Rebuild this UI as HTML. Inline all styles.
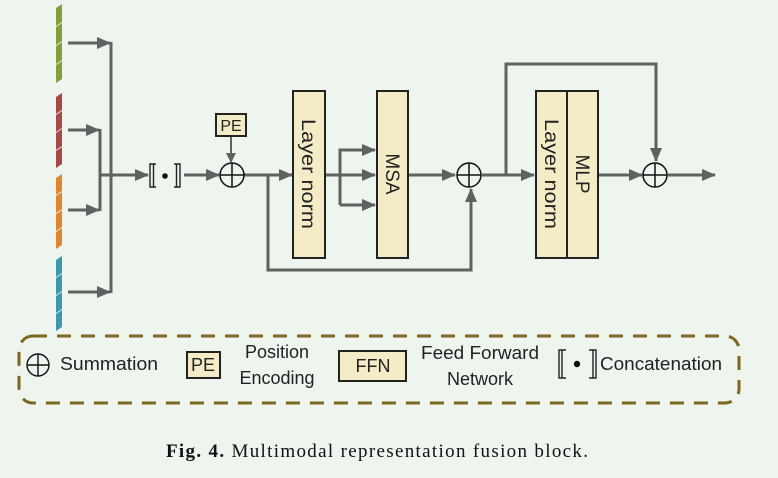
<!DOCTYPE html>
<html><head><meta charset="utf-8"><style>
html,body{margin:0;padding:0;background:#eef4ee}
svg{display:block}
</style></head><body>
<svg width="778" height="478" viewBox="0 0 778 478" xmlns="http://www.w3.org/2000/svg">
<defs>
<marker id="a" markerWidth="10" markerHeight="10" refX="9" refY="5" orient="auto" markerUnits="userSpaceOnUse" viewBox="0 0 10 10">
<path d="M0,0 L10,5 L0,10 z" fill="#5f625f"/></marker>
<marker id="b" markerWidth="14" markerHeight="12" refX="13" refY="6" orient="auto" markerUnits="userSpaceOnUse" viewBox="0 0 14 12">
<path d="M0,0 L14,6 L0,12 z" fill="#5f625f"/></marker>
</defs>
<rect x="0" y="0" width="778" height="478" fill="#eef4ee"/>
<g>
<g fill="#7fa03a"><path d="M56,8 l6,-4 v18 l-6,4z"/><path d="M56,27 l6,-4 v18 l-6,4z"/><path d="M56,46 l6,-4 v18 l-6,4z"/><path d="M56,65 l6,-4 v18 l-6,4z"/></g>
<g fill="#a54a48"><path d="M56,97 l6,-4 v17 l-6,4z"/><path d="M56,115 l6,-4 v17 l-6,4z"/><path d="M56,133 l6,-4 v17 l-6,4z"/><path d="M56,151 l6,-4 v17 l-6,4z"/></g>
<g fill="#e0862e"><path d="M56,178 l6,-4 v17 l-6,4z"/><path d="M56,196 l6,-4 v17 l-6,4z"/><path d="M56,214 l6,-4 v17 l-6,4z"/><path d="M56,232 l6,-4 v17 l-6,4z"/></g>
<g fill="#3d98ad"><path d="M56,260 l6,-4 v17 l-6,4z"/><path d="M56,278 l6,-4 v17 l-6,4z"/><path d="M56,296 l6,-4 v17 l-6,4z"/><path d="M56,314 l6,-4 v17 l-6,4z"/></g>
</g>
<g stroke="#5f625f" stroke-width="3" fill="none">
<line x1="68" y1="43" x2="110" y2="43" marker-end="url(#b)"/>
<line x1="68" y1="130" x2="99" y2="130" marker-end="url(#b)"/>
<line x1="68" y1="210" x2="99" y2="210" marker-end="url(#b)"/>
<line x1="68" y1="292" x2="110" y2="292" marker-end="url(#b)"/>
<line x1="111" y1="42" x2="111" y2="293"/>
<line x1="100" y1="129" x2="100" y2="211"/>
<line x1="100" y1="175" x2="148" y2="175" marker-end="url(#b)"/>
<line x1="184" y1="175" x2="219" y2="175" marker-end="url(#b)"/>
<line x1="231" y1="137" x2="231" y2="162" stroke-width="2" marker-end="url(#a)"/>
<line x1="244" y1="175" x2="292" y2="175" marker-end="url(#b)"/>
<polyline points="268,175 268,270 471,270 471,189" marker-end="url(#b)"/>
<line x1="325" y1="175" x2="375" y2="175" marker-end="url(#b)"/>
<polyline points="340,205 340,150 375,150" marker-end="url(#b)"/>
<line x1="340" y1="205" x2="375" y2="205" marker-end="url(#b)"/>
<line x1="408" y1="175" x2="455" y2="175" marker-end="url(#b)"/>
<line x1="482" y1="175" x2="534" y2="175" marker-end="url(#b)"/>
<polyline points="506,175 506,64 656,64 656,161" marker-end="url(#b)"/>
<line x1="598" y1="175" x2="642" y2="175" marker-end="url(#b)"/>
<line x1="668" y1="175" x2="715" y2="175" marker-end="url(#b)"/>
</g>
<path d="M156,164 h-6 v23 h6 M153.5,164 v23 M174,164 h6 v23 h-6 M176.5,164 v23" stroke="#222" stroke-width="1.4" fill="none"/>
<circle cx="165" cy="176" r="2.8" fill="#111"/>
<g stroke="#111" stroke-width="1.5" fill="none">
<circle cx="232" cy="175" r="12"/><path d="M220,175h24M232,163v24"/>
<circle cx="469" cy="175" r="12"/><path d="M457,175h24M469,163v24"/>
<circle cx="655" cy="175" r="12"/><path d="M643,175h24M655,163v24"/>
</g>
<rect x="216" y="114" width="30" height="22" fill="#f3ecc7" stroke="#222" stroke-width="2"/>
<text x="231" y="131" font-family="Liberation Sans,sans-serif" font-size="16" text-anchor="middle" fill="#222">PE</text>
<g fill="#f3ecc7" stroke="#222" stroke-width="2">
<rect x="293" y="91" width="32" height="167"/>
<rect x="377" y="91" width="31" height="167"/>
<rect x="536" y="91" width="31" height="167"/>
<rect x="567" y="91" width="31" height="167"/>
</g>
<g font-family="Liberation Sans,sans-serif" font-size="19" fill="#222" text-anchor="middle">
<text transform="translate(302,174) rotate(90)" textLength="110" lengthAdjust="spacingAndGlyphs">Layer norm</text>
<text transform="translate(386,174) rotate(90)">MSA</text>
<text transform="translate(545,174) rotate(90)" textLength="110" lengthAdjust="spacingAndGlyphs">Layer norm</text>
<text transform="translate(576,174) rotate(90)">MLP</text>
</g>
<rect x="19" y="336" width="720" height="67" rx="14" fill="none" stroke="#7d6620" stroke-width="3" stroke-dasharray="14,10"/>
<g stroke="#111" stroke-width="1.4" fill="none"><circle cx="38" cy="365" r="11"/><path d="M27,365h22M38,354v22"/></g>
<g font-family="Liberation Sans,sans-serif" font-size="18" fill="#222">
<text x="60" y="370" textLength="98" lengthAdjust="spacingAndGlyphs">Summation</text>
<rect x="187" y="352" width="33" height="26" fill="#f3ecc7" stroke="#222" stroke-width="2"/>
<text x="203" y="371" text-anchor="middle">PE</text>
<text x="277" y="358" text-anchor="middle">Position</text>
<text x="277" y="384" text-anchor="middle">Encoding</text>
<rect x="339" y="351" width="67" height="30" fill="#f3ecc7" stroke="#222" stroke-width="2"/>
<text x="373" y="372" text-anchor="middle">FFN</text>
<text x="480" y="359" text-anchor="middle" textLength="118" lengthAdjust="spacingAndGlyphs">Feed Forward</text>
<text x="480" y="385" text-anchor="middle">Network</text>
<text x="600" y="370" textLength="122" lengthAdjust="spacingAndGlyphs">Concatenation</text>
</g>
<path d="M566,350 h-7 v28 h7 M562,350 v28 M589,350 h7 v28 h-7 M593,350 v28" stroke="#222" stroke-width="1.4" fill="none"/>
<circle cx="577" cy="364" r="3.2" fill="#111"/>
<text x="166" y="457" font-family="Liberation Serif,serif" font-size="19" fill="#111" textLength="422" lengthAdjust="spacing"><tspan font-weight="bold">Fig. 4.</tspan>  Multimodal representation fusion block.</text>
</svg>
</body></html>
